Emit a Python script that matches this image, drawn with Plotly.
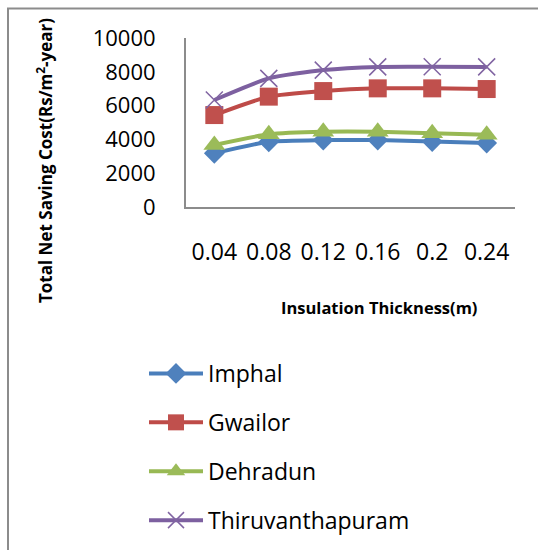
import plotly.graph_objects as go

thickness = ["0.04", "0.08", "0.12", "0.16", "0.2", "0.24"]
imphal = [3180, 3860, 3960, 3960, 3870, 3780]
gwailor = [5440, 6530, 6860, 7020, 7020, 6980]
dehradun = [3670, 4300, 4450, 4450, 4360, 4270]
thiru = [6330, 7610, 8100, 8290, 8300, 8290]
y_ticks = [0, 2000, 4000, 6000, 8000, 10000]
y_ticktext = ["0", "2000", "4000", "6000", "8000", "10000"]

series = [
    ("Imphal", imphal, "#4A7EBB", "#4F81BD", "diamond", 16),
    ("Gwailor", gwailor, "#BE4B48", "#C0504D", "square", 18),
    ("Dehradun", dehradun, "#98B954", "#9BBB59", "triangle-up", 19),
    ("Thiruvanthapuram", thiru, "#7D60A0", "#8064A2", "x-thin", 17),
]

W, H = 538, 550
L, R, T, B = 186, 515, 38, 207
FONT = "Open Sans"

fig = go.Figure()
for i, (name, vals, lc, mc, sym, ms) in enumerate(series):
    marker = dict(symbol=sym, size=ms, color=mc, line=dict(color=mc, width=1.5 if sym == "x-thin" else 0))
    fig.add_trace(go.Scatter(
        x=thickness, y=vals, name=name, mode="lines+markers",
        line=dict(color=lc, width=4, shape="spline", smoothing=0.6),
        marker=marker, legendgroup=name,
    ))

def px(x):
    return (x - L) / (R - L)

def py(y):
    return (B - y) / (B - T)

fig.update_layout(
    width=W, height=H,
    margin=dict(l=L, r=W - R, t=T, b=H - B, pad=0, autoexpand=False),
    paper_bgcolor="white", plot_bgcolor="white",
    font=dict(family=FONT, size=20, color="black"),
    showlegend=True,
    legend=dict(x=px(144), y=py(352), xanchor="left", yanchor="top",
                font=dict(size=23), itemwidth=54, tracegroupgap=16,
                bgcolor="rgba(0,0,0,0)"),
    xaxis=dict(type="category", showgrid=False, showline=True, linecolor="#8C8C8C", linewidth=2,
               ticks="", ticklabelstandoff=23, tickfont=dict(size=23), zeroline=False),
    yaxis=dict(range=[0, 10000], tickvals=y_ticks, ticktext=y_ticktext, showgrid=False,
               showline=True, linecolor="#8C8C8C", linewidth=2, ticks="",
               ticklabelstandoff=24, tickfont=dict(size=22), zeroline=False),
    annotations=[
        dict(text="<b>Insulation Thickness(m)</b>", x=px(379), y=py(307), xref="paper", yref="paper",
             showarrow=False, font=dict(size=16.5), xanchor="center", yanchor="middle"),
        dict(text="<b>Total Net Saving Cost(Rs/m<sup>2</sup>-year)</b>", x=px(44), y=py(161),
             xref="paper", yref="paper", showarrow=False, textangle=-90, font=dict(size=17),
             xanchor="center", yanchor="middle"),
    ],
    shapes=[
        dict(type="rect", xref="paper", yref="paper", x0=px(8), y0=py(560), x1=px(560), y1=py(8.5),
             line=dict(color="#8C8C8C", width=2), fillcolor="rgba(0,0,0,0)", layer="below"),
    ],
)

fig.write_html("out.html")
